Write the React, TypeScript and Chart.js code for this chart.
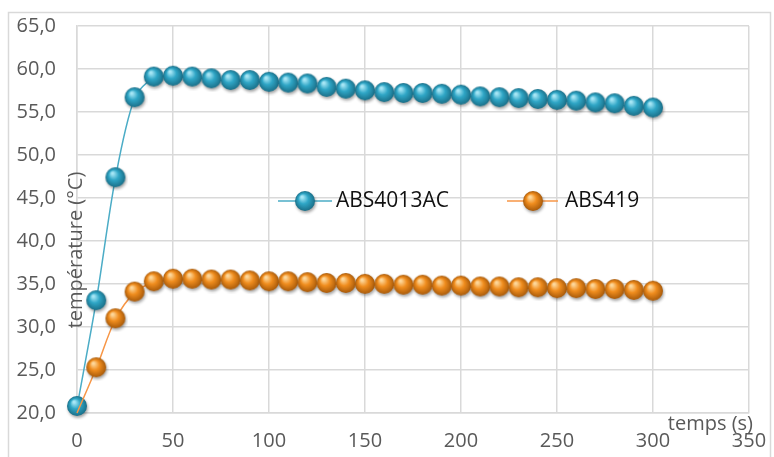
import React, { useEffect, useRef } from 'react';
import { Chart, registerables } from 'chart.js';

Chart.register(...registerables);

const times = [0, 10, 20, 30, 40, 50, 60, 70, 80, 90, 100, 110, 120, 130, 140, 150, 160, 170, 180, 190, 200, 210, 220, 230, 240, 250, 260, 270, 280, 290, 300];
const abs4013ac = [20.7, 33.0, 47.3, 56.6, 59.0, 59.1, 59.0, 58.8, 58.6, 58.6, 58.4, 58.3, 58.2, 57.8, 57.6, 57.4, 57.2, 57.1, 57.1, 57.0, 56.9, 56.7, 56.6, 56.5, 56.4, 56.3, 56.2, 56.0, 55.9, 55.6, 55.4];
const abs419 = [20.0, 25.2, 30.9, 34.0, 35.2, 35.5, 35.5, 35.4, 35.4, 35.3, 35.2, 35.2, 35.1, 35.0, 35.0, 34.9, 34.9, 34.8, 34.8, 34.7, 34.7, 34.6, 34.6, 34.5, 34.5, 34.4, 34.4, 34.3, 34.3, 34.2, 34.1];
const seriesNames = ['ABS4013AC', 'ABS419'];
const xTitle = 'temps (s)';
const yTitle = 'température (°C)';

const FONT = '"Open Sans", "Liberation Sans", sans-serif';
const GRID = '#d9d9d9';
const TEXT = '#595959';

function makeBall(light: string, base: string, dark: string): HTMLCanvasElement {
  const s = 26;
  const c = document.createElement('canvas');
  c.width = s;
  c.height = s;
  const ctx = c.getContext('2d')!;
  const cx = s / 2;
  const cy = s / 2 - 1;
  const r = 10;
  ctx.save();
  ctx.shadowColor = 'rgba(0,0,0,0.35)';
  ctx.shadowBlur = 3;
  ctx.shadowOffsetX = 1;
  ctx.shadowOffsetY = 2;
  const g = ctx.createRadialGradient(cx - 3, cy - 4, 1, cx, cy, r);
  g.addColorStop(0, light);
  g.addColorStop(0.45, base);
  g.addColorStop(1, dark);
  ctx.fillStyle = g;
  ctx.beginPath();
  ctx.arc(cx, cy, r, 0, Math.PI * 2);
  ctx.fill();
  ctx.restore();
  return c;
}

export default function App() {
  const ref = useRef<HTMLCanvasElement>(null);

  useEffect(() => {
    document.body.style.margin = '0';
    const blueBall = makeBall('#a6e6f5', '#2fa6c6', '#1a6f88');
    const orangeBall = makeBall('#fdd79a', '#f08d1e', '#a85a0a');

    const decor = {
      id: 'decor',
      beforeDraw(chart: any) {
        const ctx = chart.ctx;
        ctx.save();
        ctx.strokeStyle = GRID;
        ctx.lineWidth = 1.5;
        ctx.strokeRect(8.5, 12.5, 762, 470);
        ctx.restore();
      },
      afterDraw(chart: any) {
        const ctx = chart.ctx;
        const area = chart.chartArea;
        ctx.save();
        // axis titles
        ctx.fillStyle = TEXT;
        ctx.font = `20px ${FONT}`;
        ctx.textAlign = 'right';
        ctx.textBaseline = 'middle';
        ctx.fillText(xTitle, area.right + 4, area.bottom + 11);
        ctx.save();
        ctx.translate(area.left - 1, 250);
        ctx.rotate(-Math.PI / 2);
        ctx.textAlign = 'center';
        ctx.textBaseline = 'middle';
        ctx.fillText(yTitle, 0, 0);
        ctx.restore();
        // legend
        const items = [
          { name: seriesNames[0], color: '#4bacc6', ball: blueBall, x0: 278, x1: 332, bx: 305, tx: 336 },
          { name: seriesNames[1], color: '#f79646', ball: orangeBall, x0: 507, x1: 558, bx: 533, tx: 565 },
        ];
        const ly = 201;
        for (const it of items) {
          ctx.strokeStyle = it.color;
          ctx.lineWidth = 1.5;
          ctx.beginPath();
          ctx.moveTo(it.x0, ly);
          ctx.lineTo(it.x1, ly);
          ctx.stroke();
          ctx.drawImage(it.ball, it.bx - it.ball.width / 2, ly - it.ball.height / 2 + 1);
          ctx.fillStyle = '#111';
          ctx.font = `21px ${FONT}`;
          ctx.textAlign = 'left';
          ctx.textBaseline = 'middle';
          ctx.fillText(it.name, it.tx, ly);
        }
        ctx.restore();
      },
    };

    const chart = new Chart(ref.current!, {
      type: 'line',
      data: {
        labels: times,
        datasets: [
          {
            label: seriesNames[1],
            data: times.map((t, i) => ({ x: t, y: abs419[i] })),
            borderColor: '#f79646',
            borderWidth: 1.5,
            pointStyle: orangeBall as any,
            pointRadius: times.map((_, i) => (i === 0 ? 0 : 10)),
            tension: 0.3,
            clip: false as any,
          },
          {
            label: seriesNames[0],
            data: times.map((t, i) => ({ x: t, y: abs4013ac[i] })),
            borderColor: '#4bacc6',
            borderWidth: 1.5,
            pointStyle: blueBall as any,
            pointRadius: 10,
            tension: 0.3,
            clip: false as any,
          },
        ],
      },
      options: {
        animation: false,
        responsive: false,
        layout: { padding: { top: 26, right: 25, left: 0, bottom: 0 } },
        plugins: { legend: { display: false }, tooltip: { enabled: false } },
        scales: {
          x: {
            type: 'linear',
            min: 0,
            max: 350,
            ticks: { stepSize: 50, color: TEXT, font: { family: FONT, size: 20 }, padding: 16, maxRotation: 0 },
            grid: { color: GRID, drawTicks: false, lineWidth: 1.5 },
            border: { color: GRID, width: 1.5 },
            afterFit: (s: any) => { s.height = 44; s.paddingLeft = 0; s.paddingRight = 0; },
          },
          y: {
            min: 20,
            max: 65,
            ticks: {
              stepSize: 5,
              color: TEXT,
              font: { family: FONT, size: 20 },
              padding: 21,
              callback: (v: any) => Number(v).toFixed(1).replace('.', ','),
            },
            grid: { color: GRID, drawTicks: false, lineWidth: 1.5 },
            border: { color: GRID, width: 1.5 },
            afterFit: (s: any) => { s.width = 77; s.paddingTop = 0; s.paddingBottom = 0; },
          },
        },
      },
      plugins: [decor],
    });
    return () => chart.destroy();
  }, []);

  return (
    <div style={{ width: 774, height: 457 }}>
      <canvas ref={ref} width={774} height={457} />
    </div>
  );
}
